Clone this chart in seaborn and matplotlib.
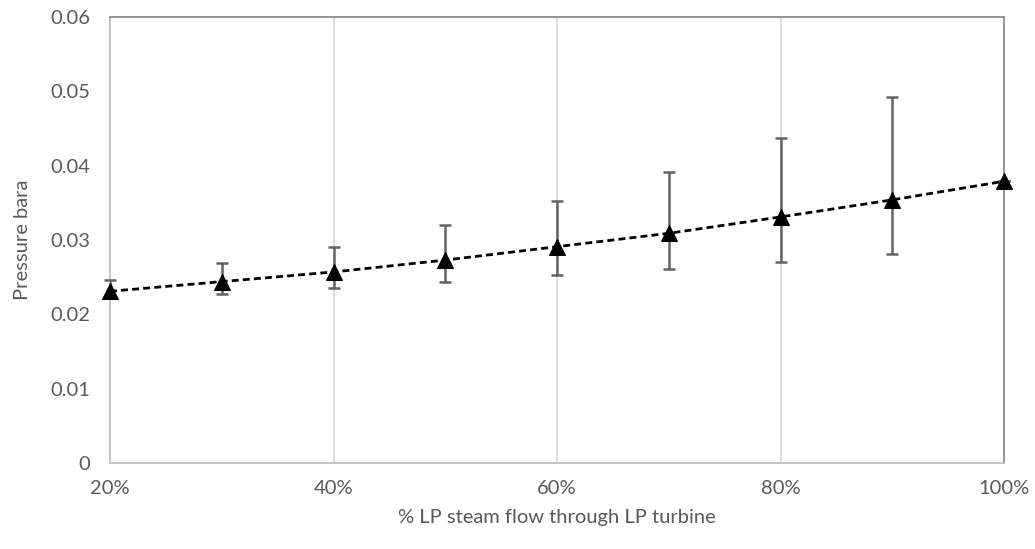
import matplotlib
matplotlib.use("Agg")
import matplotlib.pyplot as plt
import seaborn as sns
import numpy as np
import pandas as pd

# Data
flow_pct = [20, 30, 40, 50, 60, 70, 80, 90, 100]
pressure = [0.0231, 0.0244, 0.0257, 0.0273, 0.0291, 0.0309, 0.0331, 0.0354, 0.0379]
err_upper = [0.0246, 0.0269, 0.0291, 0.0320, 0.0353, 0.0391, 0.0437, 0.0493, 0.0379]
err_lower = [0.0223, 0.0227, 0.0235, 0.0244, 0.0253, 0.0261, 0.0270, 0.0281, 0.0379]
x_ticks = [20, 40, 60, 80, 100]
x_tick_labels = ["20%", "40%", "60%", "80%", "100%"]
y_ticks = [0, 0.01, 0.02, 0.03, 0.04, 0.05, 0.06]
y_tick_labels = ["0", "0.01", "0.02", "0.03", "0.04", "0.05", "0.06"]
x_label = "% LP steam flow through LP turbine"
y_label = "Pressure bara"

sns.set_theme(style="white")
plt.rcParams['font.family'] = ['Lato', 'DejaVu Sans']

df = pd.DataFrame({"flow": flow_pct, "pressure": pressure})

fig = plt.figure(figsize=(10.35, 5.49), dpi=100)
ax = fig.add_axes([110/1035, 1 - 463/549, (1004 - 110)/1035, (463 - 17)/549])

text_color = "#595959"

yerr = np.array([np.array(pressure) - np.array(err_lower),
                 np.array(err_upper) - np.array(pressure)])
ax.errorbar(flow_pct, pressure, yerr=yerr, fmt='none', ecolor="#636363",
            elinewidth=1.8, capsize=4.3, capthick=1.8, zorder=3)

sns.lineplot(data=df, x="flow", y="pressure", ax=ax, color="black",
             linestyle=(0, (2.5, 1.5)), linewidth=2.0, marker="^",
             markersize=12, markeredgecolor="black", markerfacecolor="black",
             zorder=4)
for ln in ax.lines:
    ln.set_clip_on(False)

ax.set_xlim(20, 100)
ax.set_ylim(0, 0.06)
ax.set_xticks(x_ticks)
ax.set_xticklabels(x_tick_labels)
ax.set_yticks(y_ticks)
ax.set_yticklabels(y_tick_labels)

for xv in [40, 60, 80]:
    ax.axvline(xv, color="#d9d9d9", linewidth=1.3, zorder=1)

ax.tick_params(axis='both', length=0, labelsize=14.5, colors=text_color, pad=12)
ax.tick_params(axis='y', pad=14)
ax.set_xlabel(x_label, fontsize=14.5, color=text_color, labelpad=9)
ax.set_ylabel(y_label, fontsize=14.5, color=text_color, labelpad=14)

ax.spines['left'].set_color("#bfbfbf")
ax.spines['bottom'].set_color("#bfbfbf")
ax.spines['top'].set_color("#8c8c8c")
ax.spines['right'].set_color("#8c8c8c")
for s in ax.spines.values():
    s.set_linewidth(1.3)
    s.set_visible(True)

fig.savefig("out.png", dpi=100)
